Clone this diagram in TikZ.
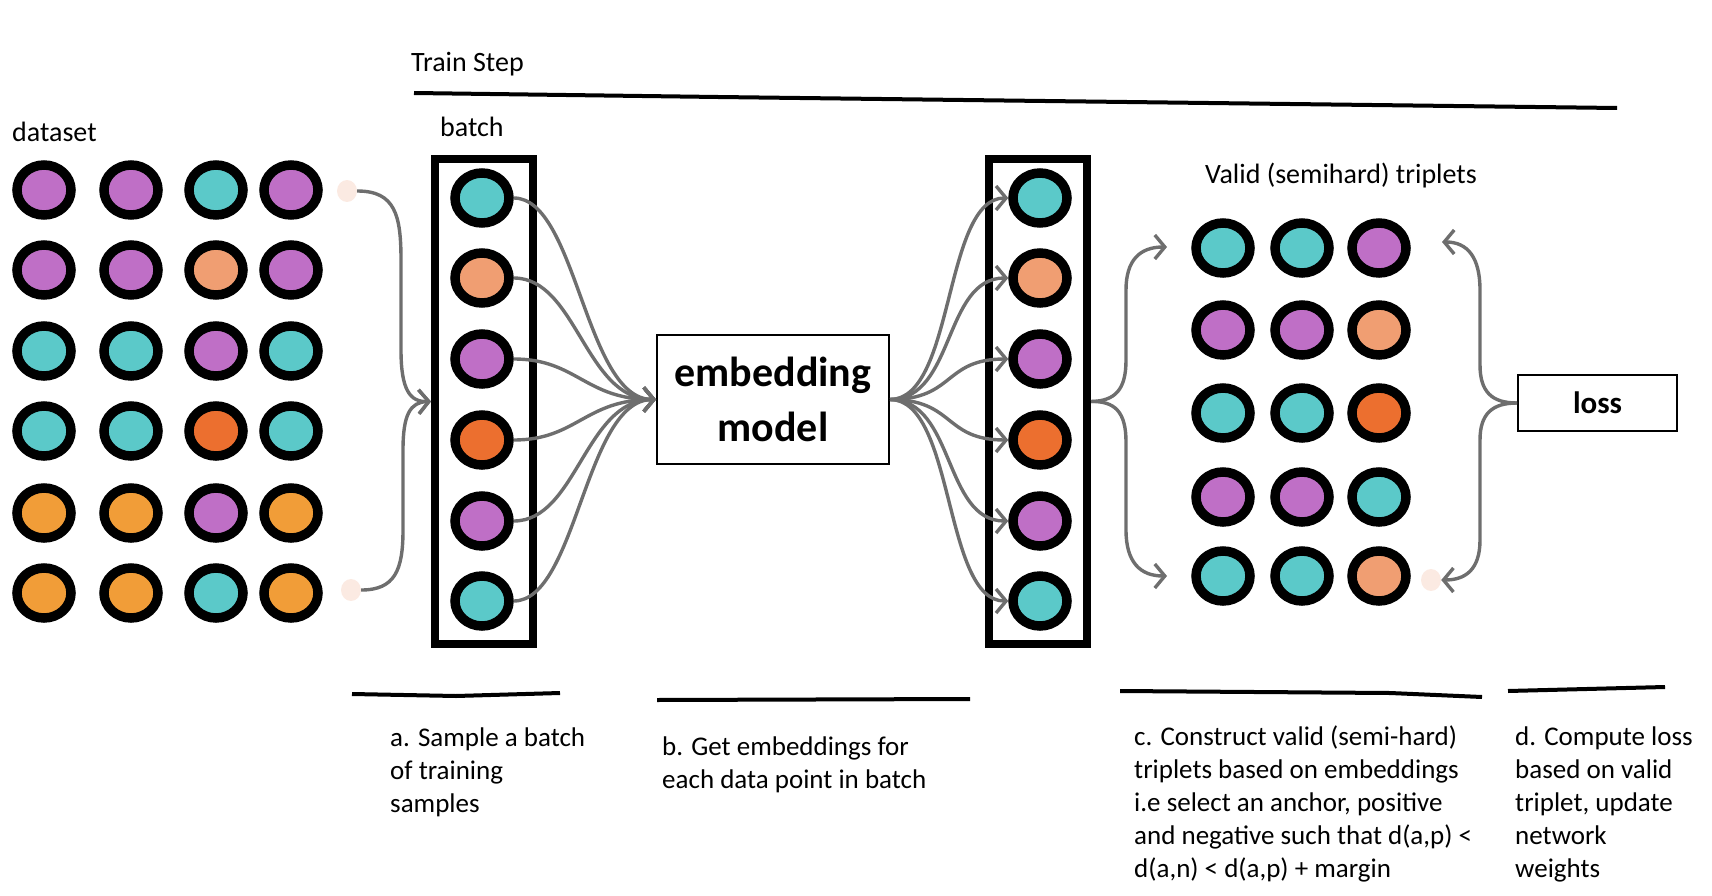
\documentclass[tikz,border=0pt]{standalone}
\usepackage{fontspec}
\setmainfont{Carlito}
\usetikzlibrary{arrows.meta,shapes.geometric}
\definecolor{cpurple}{HTML}{BF6FC6}
\definecolor{cteal}{HTML}{5BC9C9}
\definecolor{csalmon}{HTML}{F09E72}
\definecolor{cdorange}{HTML}{EC6F2F}
\definecolor{corange}{HTML}{F19D38}
\definecolor{cpink}{HTML}{FBEAE2}
\definecolor{cgray}{HTML}{6E6E6E}
\begin{document}
\begin{tikzpicture}[x=1pt,y=-1pt,
  dot/.style={ellipse, draw=black, line width=9.5pt, minimum width=54pt, minimum height=50pt, inner sep=0pt},
  pinkdot/.style={ellipse, fill=cpink, minimum width=20pt, minimum height=22pt, inner sep=0pt},
  conn/.style={draw=cgray, line width=3.4pt, -{Straight Barb[length=10pt,width=24pt]}},
  colbox/.style={rectangle, draw=black, line width=8pt, minimum width=98pt, minimum height=485pt, inner sep=0pt},
  thinbox/.style={rectangle, draw=black, line width=2pt, inner sep=0pt, align=center},
  rulestroke/.style={draw=black, line width=4pt},
  lbl/.style={anchor=base west, inner sep=0pt, font=\fontsize{28}{34}\selectfont},
  captxt/.style={anchor=base west, inner sep=0pt, font=\fontsize{27}{33}\selectfont}
]
\useasboundingbox (0,0) rectangle (1712,896);

% titles
\node[lbl] (trainstep) at (411,72) {Train Step};
\draw[rulestroke] (414,93) -- (718,97) -- (1617,108);
\node[lbl] (dsl) at (12,142) {dataset};
\node[lbl] (bl) at (440,137) {batch};
\node[lbl] (vl) at (1205,184) {Valid (semihard) triplets};

% dataset
\foreach \r/\y/\ca/\cb/\cc/\cd in {1/190/cpurple/cpurple/cteal/cpurple,
                                 2/270/cpurple/cpurple/csalmon/cpurple,
                                 3/351/cteal/cteal/cpurple/cteal,
                                 4/431/cteal/cteal/cdorange/cteal,
                                 5/513/corange/corange/cpurple/corange,
                                 6/593/corange/corange/cteal/corange}{
  \node[dot, fill=\ca] (d\r1) at (44,\y) {};
  \node[dot, fill=\cb] (d\r2) at (131,\y) {};
  \node[dot, fill=\cc] (d\r3) at (216,\y) {};
  \node[dot, fill=\cd] (d\r4) at (291,\y) {};
}
\node[pinkdot] (p1) at (347,191) {};
\node[pinkdot] (p2) at (351,590) {};

% batch column
\node[colbox] (batch) at (484,401.5) {};
\node[colbox] (col2) at (1038,401.5) {};
\foreach \k/\y/\c in {1/198/cteal,2/278/csalmon,3/359/cpurple,4/440/cdorange,5/521/cpurple,6/601/cteal}{
  \node[dot, fill=\c] (b\k) at (482,\y) {};
  \node[dot, fill=\c] (c\k) at (1040,\y) {};
}

% embedding model
\node[thinbox, minimum width=232pt, minimum height=129pt,
      font=\bfseries\fontsize{42}{55}\selectfont] (emb) at (773,399.5) {embedding\\model};

% triplets
\foreach \r/\y/\ca/\cb/\cc in {1/248/cteal/cteal/cpurple,
                              2/330/cpurple/cpurple/csalmon,
                              3/413/cteal/cteal/cdorange,
                              4/497/cpurple/cpurple/cteal,
                              5/576/cteal/cteal/csalmon}{
  \node[dot, fill=\ca] (t\r1) at (1223,\y) {};
  \node[dot, fill=\cb] (t\r2) at (1302,\y) {};
  \node[dot, fill=\cc] (t\r3) at (1379,\y) {};
}
\node[pinkdot] (tp) at (1431,580) {};
\coordinate (tin1) at (1167,247);
\coordinate (tin2) at (1167,576);
\coordinate (lin1) at (1442,242);

% loss
\node[thinbox, minimum width=159pt, minimum height=56pt,
      font=\bfseries\fontsize{31}{36}\selectfont] (loss) at (1597.5,403) {loss};

% connectors: dataset -> batch
\draw[conn] (p1.east) .. controls (395,191) and (401,215) .. (401,260) -- (401,350)
            .. controls (401,390) and (410,402) .. (batch.west);
\draw[conn] (p2.east) .. controls (395,590) and (403,570) .. (403,530) -- (403,450)
            .. controls (403,415) and (410,402) .. (batch.west);

% batch -> embedding
\foreach \k in {1,...,6}{
  \draw[conn] (b\k.east) .. controls ([xshift=63pt]b\k.east) and (585,399.5) .. (emb.west);
}

% embedding -> column 2
\foreach \k in {1,...,6}{
  \draw[conn] (emb.east) .. controls (955,399.5) and ([xshift=-65pt]c\k.west) .. (c\k.west);
}

% column 2 -> triplets
\draw[conn] (col2.east) .. controls (1115,401) and (1126,390) .. (1126,360) -- (1126,290)
            .. controls (1126,260) and (1140,247) .. (tin1);
\draw[conn] (col2.east) .. controls (1115,401) and (1126,412) .. (1126,442) -- (1126,530)
            .. controls (1126,562) and (1140,576) .. (tin2);

% loss -> triplets
\draw[conn] (loss.west) .. controls (1492,403) and (1480,392) .. (1480,365) -- (1480,290)
            .. controls (1480,258) and (1468,242) .. (lin1);
\draw[conn] (loss.west) .. controls (1492,403) and (1480,414) .. (1480,440) -- (1480,540)
            .. controls (1480,570) and (1465,580) .. (tp.east);

% bottom rules
\draw[rulestroke] (352,694) -- (456,696) -- (560,693);
\draw[rulestroke] (657,700) -- (970,699);
\draw[rulestroke] (1120,691) -- (1390,693) -- (1482,697);
\draw[rulestroke] (1508,691) -- (1665,687);

% captions
\node[captxt] (ca) at (390,746) {\begin{tabular}[t]{@{}l@{}}a. Sample a batch\\of training\\samples\end{tabular}};
\node[captxt] (cb) at (662,755) {\begin{tabular}[t]{@{}l@{}}b. Get embeddings for\\each data point in batch\end{tabular}};
\node[captxt] (cc) at (1134,745) {\begin{tabular}[t]{@{}l@{}}c. Construct valid (semi-hard)\\triplets based on embeddings\\i.e select an anchor, positive\\and negative such that d(a,p) <\\d(a,n) < d(a,p) + margin\end{tabular}};
\node[captxt] (cd) at (1515,745) {\begin{tabular}[t]{@{}l@{}}d. Compute loss\\based on valid\\triplet, update\\network\\weights\end{tabular}};
\end{tikzpicture}
\end{document}
